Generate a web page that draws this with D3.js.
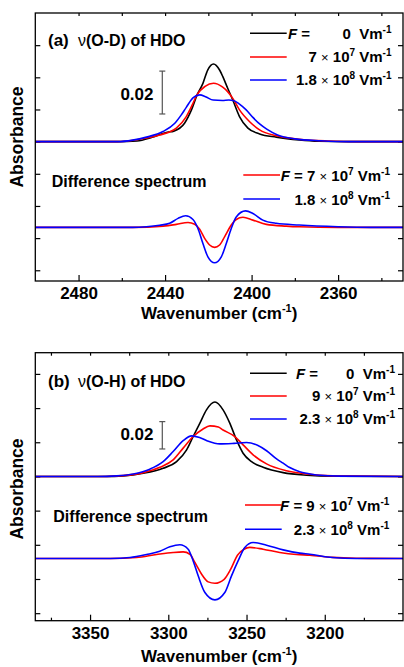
<!DOCTYPE html>
<html>
<head>
<meta charset="utf-8">
<script src="https://cdn.jsdelivr.net/npm/d3@7"></script>
<style>
body { margin: 0; background: #fff; }
svg { display: block; font-family: "Liberation Sans", Arial, Helvetica, sans-serif; font-weight: bold; }
.frame { fill: none; stroke: #000; stroke-width: 1.3; }
.axis path { display: none; }
.axis line { stroke: #000; stroke-width: 1.2; }
.axis text { font-family: "Liberation Sans", Arial, sans-serif; font-weight: bold; font-size: 17px; fill: #000; }
.curve { fill: none; stroke-width: 1.6; stroke-linejoin: round; }
</style>
</head>
<body>
<script>
// ---- data: [wavenumber cm-1, absorbance] ----
// (a) nu(O-D) of HDO, absorption spectra
var odAbs0 = [[2500,0],[2462,0],[2453,0.0003],[2446,0.002],[2439,0.0044],[2436,0.0049],[2431,0.0086],[2427.8,0.0148],[2425.2,0.0218],[2422.5,0.0272],[2420.3,0.0334],[2417.6,0.0362],[2414.8,0.0334],[2413.3,0.0303],[2411.1,0.025],[2408.7,0.0194],[2405.6,0.0117],[2401.7,0.0063],[2396.3,0.0036],[2388.6,0.0021],[2378,0.0008],[2369,0.0002],[2355,0],[2330,0]];
var odAbs1 = [[2500,0],[2462,0],[2452,0.0011],[2442.5,0.0031],[2434.8,0.0063],[2430.2,0.0117],[2427.5,0.017],[2425.3,0.0218],[2421.5,0.0258],[2417.6,0.0272],[2413.5,0.0255],[2411,0.0232],[2408.7,0.0202],[2405.6,0.0148],[2400.9,0.0093],[2396.3,0.0055],[2388.6,0.0027],[2378,0.0011],[2365,0.0003],[2350,0],[2330,0]];
var odAbs2 = [[2500,0],[2462,0],[2455,0.0007],[2448.6,0.0021],[2441,0.0047],[2435.5,0.0086],[2432.5,0.0125],[2430.2,0.016],[2427,0.0205],[2424,0.0218],[2421,0.0208],[2417.8,0.0194],[2413.5,0.0192],[2410.5,0.0194],[2408.5,0.0192],[2405.6,0.0175],[2402.5,0.0148],[2399.4,0.0113],[2396,0.008],[2393,0.0058],[2388,0.0031],[2380,0.0013],[2368,0.0004],[2355,0],[2330,0]];
// (a) difference spectra
var odDiff1 = [[2500,0],[2455,0],[2440.9,0.0006],[2434.8,0.0014],[2429.4,0.0023],[2426.3,0.0015],[2424,-0.0009],[2421.7,-0.0051],[2419.4,-0.0082],[2417.1,-0.0093],[2414.8,-0.0082],[2412.5,-0.0044],[2409.4,0.0011],[2407.1,0.0037],[2404,0.0047],[2399.4,0.0034],[2393.2,0.0014],[2384,0.0006],[2378,0.0003],[2360,0],[2330,0]];
var odDiff2 = [[2500,0],[2455,0],[2448.6,0.0003],[2442.5,0.001],[2437.9,0.0019],[2434,0.0042],[2430.5,0.0054],[2427.1,0.0037],[2424.8,-0.0005],[2422.5,-0.0075],[2420.2,-0.0137],[2417.1,-0.0165],[2414,-0.0137],[2411.7,-0.0075],[2409.4,-0.0005],[2407.1,0.0049],[2402.8,0.0077],[2399.4,0.0065],[2394.8,0.0034],[2388.6,0.0019],[2378,0.0011],[2360,0.0003],[2345,0],[2330,0]];

// (b) nu(O-H) of HDO, absorption spectra
var ohAbs0 = [[3385,0],[3340,0],[3328.8,0.0004],[3316,0.0023],[3303.3,0.006],[3294.7,0.0108],[3288.3,0.0194],[3284.1,0.0292],[3279.8,0.039],[3275.6,0.0487],[3270.2,0.0544],[3265,0.0487],[3260.7,0.039],[3256.4,0.0267],[3252.2,0.017],[3246.8,0.0108],[3239.4,0.0067],[3226.6,0.0028],[3211.7,0.0009],[3195,0.0001],[3150,0]];
var ohAbs1 = [[3385,0],[3340,0],[3328.8,0.0006],[3316,0.0028],[3305.4,0.0067],[3296.9,0.0121],[3290.5,0.0207],[3284.1,0.0292],[3278,0.0345],[3273.4,0.037],[3268,0.0362],[3265,0.034],[3257.5,0.0292],[3252.2,0.0231],[3245.8,0.0158],[3237.2,0.0092],[3224.5,0.0042],[3211.7,0.0018],[3195,0.0004],[3150,0]];
var ohAbs2 = [[3385,0],[3345,0],[3333,0.0004],[3322.4,0.0018],[3311.8,0.0053],[3303.3,0.0108],[3296.9,0.0182],[3290.5,0.0262],[3285.1,0.0297],[3280,0.0285],[3275,0.026],[3267.1,0.0238],[3258,0.0242],[3250,0.0248],[3243,0.0228],[3237.2,0.0188],[3230.8,0.0128],[3226.6,0.0097],[3222.4,0.0065],[3216,0.0035],[3211.7,0.0023],[3205.3,0.0011],[3190,0.0002],[3150,0]];
// (b) difference spectra
var ohDiff1 = [[3385,0],[3337,0],[3320.3,0.0007],[3307.5,0.0029],[3296.9,0.0044],[3290.5,0.0048],[3286.2,0.0031],[3283,-0.0029],[3278.7,-0.0115],[3274.5,-0.0171],[3270.2,-0.0181],[3264.3,-0.0152],[3260.1,-0.0078],[3255.8,0.0024],[3251.6,0.0068],[3247.9,0.0081],[3239.4,0.0068],[3228.8,0.0044],[3218.1,0.0029],[3209.6,0.0024],[3195,0.0008],[3180,0.0002],[3150,0]];
var ohDiff2 = [[3385,0],[3337,0],[3324.5,0.0007],[3313.9,0.0029],[3305.4,0.0053],[3299,0.0085],[3292.6,0.01],[3287.3,0.0068],[3284.1,-0.0018],[3280.9,-0.0127],[3276.6,-0.0249],[3270.2,-0.0303],[3263.9,-0.0249],[3259.6,-0.0127],[3255.4,-0.0018],[3251.1,0.0081],[3245.8,0.0117],[3237.2,0.0097],[3226.6,0.0063],[3216,0.0039],[3209.6,0.0031],[3195,0.0007],[3180,0],[3150,0]];

// field strengths in the legends (mantissa x 10^exp)
var odFieldMant = ["0", "7", "1.8"];
var odFieldExp = ["", "7", "8"];
var ohFieldMant = ["0", "9", "2.3"];
var ohFieldExp = ["", "7", "8"];

// ticks
var odMajor = [2480, 2440, 2400, 2360];
var odMinor = [2460, 2420, 2380, 2340];
var odTop = [2480, 2460, 2440, 2420, 2400, 2380, 2360, 2340];
var odYTicks = [-0.06, -0.045, -0.03, -0.015, 0, 0.015, 0.03, 0.045];
var ohMajor = [3350, 3300, 3250, 3200];
var ohMinor = [3375, 3325, 3275, 3225, 3175];
var ohTop = [3375, 3350, 3325, 3300, 3275, 3250, 3225, 3200, 3175];
var ohYTicks = [-0.1, -0.075, -0.05, -0.025, 0, 0.025, 0.05, 0.075];

var colors = ["#000000", "#ff0000", "#0000ff"];

var W = 404, H = 667;
var left = 35.3, right = 403;

var svg = d3.select("body").append("svg")
  .attr("width", W)
  .attr("height", H);

var panels = [
  { id: "a", top: 13, bottom: 281, xDomain: [2500, 2330], yDomain: [-0.065, 0.06],
    major: odMajor, minor: odMinor, topTicks: odTop, yTicks: odYTicks,
    abs: [odAbs0, odAbs1, odAbs2], diff: [odDiff1, odDiff2], diffOffset: -0.04,
    mant: odFieldMant, exp: odFieldExp, mode: "O-D",
    titleY: 45.5, legY: [33.3, 57, 80], legEnd: 391.5, fX: 288,
    diffLegY: [175, 199], diffLegX: 243.3, diffLegEnd: 390, diffTitleY: 186.7, diffTitleX: 51.7,
    barX: 162.3, barLow: 0.0129, barLabelY: 100, absLabelY: 137, xTitleY: 318.5 },
  { id: "b", top: 352.7, bottom: 620.7, xDomain: [3385, 3150], yDomain: [-0.1055, 0.0905],
    major: ohMajor, minor: ohMinor, topTicks: ohTop, yTicks: ohYTicks,
    abs: [ohAbs0, ohAbs1, ohAbs2], diff: [ohDiff1, ohDiff2], diffOffset: -0.06,
    mant: ohFieldMant, exp: ohFieldExp, mode: "O-H",
    titleY: 387.3, legY: [373.3, 396, 419], legEnd: 395, fX: 296,
    diffLegY: [505, 529.3], diffLegX: 245, diffLegEnd: 389.3, diffTitleY: 521.5, diffTitleX: 53.3,
    barX: 162.3, barLow: 0.0201, barLabelY: 440, absLabelY: 489, xTitleY: 662 }
];

// write "m x 10^e Vm^-1" (optionally prefixed with "F = ") right aligned at x
function fieldText(g, x, y, mant, exp, withF) {
  var t = g.append("text")
    .attr("x", x).attr("y", y)
    .attr("text-anchor", "end")
    .style("font-size", "15px");
  if (withF) {
    t.append("tspan").style("font-style", "italic").text("F");
    t.append("tspan").text(" = ");
  }
  t.append("tspan").text(mant + (exp ? " " : "\u00a0\u00a0"));
  if (exp) {
    t.append("tspan").style("font-weight", "normal").style("font-size", "13px").text("\u00d7");
    t.append("tspan").text(" 10");
    t.append("tspan").attr("dy", -6).style("font-size", "10px").text(exp);
    t.append("tspan").attr("dy", 6).text(" Vm");
  } else {
    t.append("tspan").text("Vm");
  }
  t.append("tspan").attr("dy", -6).style("font-size", "10px").text("-1");
}

panels.forEach(function (p) {
  var x = d3.scaleLinear().domain(p.xDomain).range([left, right]);
  var y = d3.scaleLinear().domain(p.yDomain).range([p.bottom, p.top]);
  var g = svg.append("g").attr("class", "panel-" + p.id);

  var clipId = "clip-" + p.id;
  svg.append("clipPath").attr("id", clipId)
    .append("rect")
    .attr("x", left).attr("y", p.top)
    .attr("width", right - left).attr("height", p.bottom - p.top);

  // axes, ticks inward
  g.append("g").attr("class", "axis")
    .attr("transform", "translate(0," + p.bottom + ")")
    .call(d3.axisBottom(x).tickValues(p.major).tickSizeInner(-6).tickSizeOuter(0)
      .tickPadding(6).tickFormat(d3.format("d")));
  g.append("g").attr("class", "axis")
    .attr("transform", "translate(0," + p.bottom + ")")
    .call(d3.axisBottom(x).tickValues(p.minor).tickSizeInner(-3).tickSizeOuter(0).tickFormat(""));
  g.append("g").attr("class", "axis")
    .attr("transform", "translate(0," + p.top + ")")
    .call(d3.axisTop(x).tickValues(p.topTicks).tickSizeInner(-3).tickSizeOuter(0).tickFormat(""));
  g.append("g").attr("class", "axis")
    .attr("transform", "translate(" + left + ",0)")
    .call(d3.axisLeft(y).tickValues(p.yTicks).tickSizeInner(-5).tickSizeOuter(0).tickFormat(""));
  g.append("g").attr("class", "axis")
    .attr("transform", "translate(" + right + ",0)")
    .call(d3.axisRight(y).tickValues(p.yTicks).tickSizeInner(-5).tickSizeOuter(0).tickFormat(""));

  // spectra
  var curves = g.append("g").attr("clip-path", "url(#" + clipId + ")");
  var line = d3.line()
    .x(function (d) { return x(d[0]); })
    .y(function (d) { return y(d[1]); })
    .curve(d3.curveMonotoneX);
  var diffLine = d3.line()
    .x(function (d) { return x(d[0]); })
    .y(function (d) { return y(d[1] + p.diffOffset); })
    .curve(d3.curveMonotoneX);

  curves.selectAll(".abs")
    .data(p.abs)
    .enter().append("path")
    .attr("class", "curve abs")
    .attr("d", line)
    .style("stroke", function (d, i) { return colors[i]; });

  curves.selectAll(".diff")
    .data(p.diff)
    .enter().append("path")
    .attr("class", "curve diff")
    .attr("d", diffLine)
    .style("stroke", function (d, i) { return colors[i + 1]; });

  g.append("rect").attr("class", "frame")
    .attr("x", left).attr("y", p.top)
    .attr("width", right - left).attr("height", p.bottom - p.top);

  // panel title
  g.append("text").attr("x", 48).attr("y", p.titleY)
    .style("font-size", "17px").text("(" + p.id + ")");
  var tt = g.append("text").attr("x", 78).attr("y", p.titleY).style("font-size", "16px");
  tt.append("tspan").style("font-weight", "normal").text("\u03bd");
  tt.append("tspan").text("(" + p.mode + ") of HDO");

  // legend for the spectra
  p.legY.forEach(function (ly, i) {
    g.append("line")
      .attr("x1", 250).attr("x2", 286.7)
      .attr("y1", ly).attr("y2", ly)
      .style("stroke", colors[i]).style("stroke-width", 1.6);
    fieldText(g, p.legEnd, ly + 5.3, p.mant[i], p.exp[i], false);
  });
  var ft = g.append("text").attr("x", p.fX).attr("y", p.legY[0] + 5.3).style("font-size", "15px");
  ft.append("tspan").style("font-style", "italic").text("F");
  ft.append("tspan").text(" =");

  // legend for difference spectra
  g.append("text").attr("x", p.diffTitleX).attr("y", p.diffTitleY)
    .style("font-size", "16px").text("Difference spectrum");
  p.diffLegY.forEach(function (ly, i) {
    g.append("line")
      .attr("x1", p.diffLegX).attr("x2", p.diffLegX + 36.7)
      .attr("y1", ly).attr("y2", ly)
      .style("stroke", colors[i + 1]).style("stroke-width", 1.6);
    fieldText(g, p.diffLegEnd, ly + 5.5, p.mant[i + 1], p.exp[i + 1], i === 0);
  });

  // 0.02 scale bar
  var y0 = y(p.barLow), y1 = y(p.barLow + 0.02);
  var bar = g.append("g").style("stroke", "#555").style("stroke-width", 1.2);
  bar.append("line").attr("x1", p.barX).attr("x2", p.barX).attr("y1", y0).attr("y2", y1);
  bar.append("line").attr("x1", p.barX - 3).attr("x2", p.barX + 3).attr("y1", y0).attr("y2", y0);
  bar.append("line").attr("x1", p.barX - 3).attr("x2", p.barX + 3).attr("y1", y1).attr("y2", y1);
  g.append("text").attr("x", 153.5).attr("y", p.barLabelY)
    .attr("text-anchor", "end").style("font-size", "17px").text("0.02");

  // axis titles
  g.append("text")
    .attr("transform", "translate(23," + p.absLabelY + ") rotate(-90)")
    .attr("text-anchor", "middle")
    .style("font-size", "17.5px")
    .text("Absorbance");
  var xt = g.append("text")
    .attr("x", (left + right) / 2).attr("y", p.xTitleY)
    .attr("text-anchor", "middle")
    .style("font-size", "17px");
  xt.append("tspan").text("Wavenumber (cm");
  xt.append("tspan").attr("dy", -7).style("font-size", "11px").text("-1");
  xt.append("tspan").attr("dy", 7).text(")");
});
</script>
</body>
</html>
